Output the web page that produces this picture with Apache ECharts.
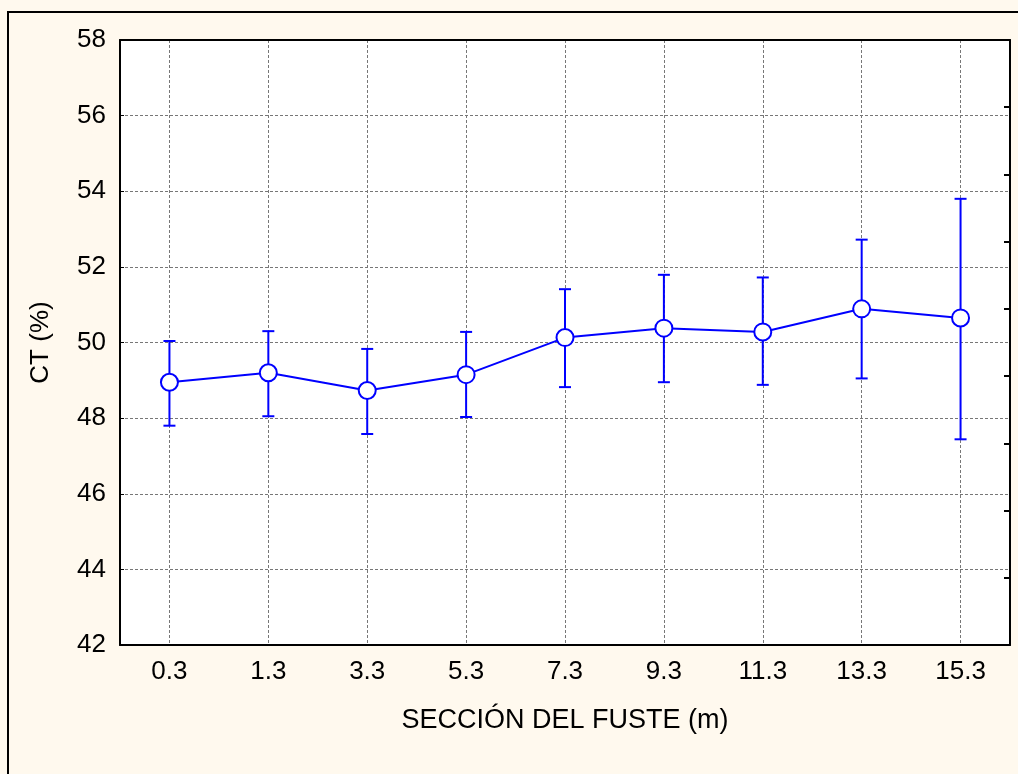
<!DOCTYPE html>
<html>
<head>
	<meta charset="UTF-8">
	<title>CT (%) por sección del fuste</title>
	<script src="https://cdn.jsdelivr.net/npm/echarts@6/dist/echarts.min.js"></script>
	<style>
		html, body { margin: 0; padding: 0; background: #FFF9EE; }
		#chart1 { width: 1018px; height: 774px; }
	</style>
</head>
<body>
	<div id="chart1"></div>
</body>
</html>
<script type="text/javascript">
	// datos
	var secciones = ['0.3', '1.3', '3.3', '5.3', '7.3', '9.3', '11.3', '13.3', '15.3'];
	var medias = [48.95, 49.20, 48.73, 49.15, 50.13, 50.38, 50.28, 50.89, 50.65];
	var limInf = [47.80, 48.05, 47.58, 48.03, 48.82, 48.95, 48.88, 49.05, 47.44];
	var limSup = [50.04, 50.30, 49.83, 50.28, 51.41, 51.79, 51.72, 52.72, 53.80];

	var azul = '#0000FF';
	var fuente = 'Liberation Sans, Arial, sans-serif';

	var barras = secciones.map(function (s, i) {
		return [i, limInf[i], limSup[i]];
	});

	var chart1 = echarts.init(document.getElementById('chart1'));

	var option = {
		backgroundColor: '#FFF9EE',
		animation: false,
		textStyle: { fontFamily: fuente },
		graphic: [{
			type: 'rect',
			shape: { x: 8, y: 12, width: 1100, height: 900 },
			style: { fill: 'none', stroke: '#000', lineWidth: 2 },
			silent: true
		}],
		grid: {
			left: 120, top: 40, right: 8, bottom: 129,
			show: true, backgroundColor: '#FFFFFF', borderWidth: 0
		},
		xAxis: [{
			type: 'category',
			data: secciones,
			position: 'bottom',
			name: 'SECCIÓN DEL FUSTE (m)',
			nameLocation: 'middle',
			nameGap: 62,
			nameTextStyle: { color: '#000', fontSize: 27, fontFamily: fuente },
			axisLine: { lineStyle: { color: '#000', width: 2 } },
			axisTick: { inside: true, alignWithLabel: true, length: 5, lineStyle: { color: '#000', width: 2 } },
			axisLabel: { color: '#000', fontSize: 26, margin: 14, fontFamily: fuente },
			splitLine: { show: true, alignWithLabel: true, lineStyle: { color: '#777777', type: [3, 2], width: 1 } }
		}, {
			type: 'category',
			data: secciones,
			position: 'top',
			axisLine: { lineStyle: { color: '#000', width: 2 } },
			axisTick: { inside: true, alignWithLabel: true, length: 5, lineStyle: { color: '#000', width: 2 } },
			axisLabel: { show: false },
			splitLine: { show: false }
		}],
		yAxis: [{
			type: 'value',
			min: 42, max: 58, interval: 2,
			name: 'CT (%)',
			nameLocation: 'middle',
			nameGap: 66,
			nameTextStyle: { color: '#000', fontSize: 26, fontFamily: fuente },
			axisLine: { show: true, lineStyle: { color: '#000', width: 2 } },
			axisTick: { show: true, inside: true, length: 4, lineStyle: { color: '#000', width: 1 } },
			axisLabel: { color: '#000', fontSize: 26, margin: 14, fontFamily: fuente },
			splitLine: { show: true, lineStyle: { color: '#777777', type: [3, 2], width: 1 } }
		}, {
			type: 'value',
			position: 'right',
			min: 0, max: 9, interval: 1,
			axisLine: { show: true, lineStyle: { color: '#000', width: 2 } },
			axisTick: { show: true, inside: true, length: 6, lineStyle: { color: '#000', width: 2 } },
			axisLabel: { show: false },
			splitLine: { show: false }
		}],
		series: [{
			type: 'custom',
			name: 'error',
			xAxisIndex: 0,
			yAxisIndex: 0,
			data: barras,
			z: 2,
			renderItem: function (params, api) {
				var x = api.value(0);
				var bajo = api.coord([x, api.value(1)]);
				var alto = api.coord([x, api.value(2)]);
				var m = 6;
				var estilo = { stroke: azul, lineWidth: 2 };
				return {
					type: 'group',
					children: [
						{ type: 'line', shape: { x1: alto[0], y1: alto[1], x2: bajo[0], y2: bajo[1] }, style: estilo },
						{ type: 'line', shape: { x1: alto[0] - m, y1: alto[1], x2: alto[0] + m, y2: alto[1] }, style: estilo },
						{ type: 'line', shape: { x1: bajo[0] - m, y1: bajo[1], x2: bajo[0] + m, y2: bajo[1] }, style: estilo }
					]
				};
			}
		}, {
			type: 'line',
			name: 'CT',
			xAxisIndex: 0,
			yAxisIndex: 0,
			data: medias,
			z: 3,
			symbol: 'circle',
			symbolSize: 17,
			showAllSymbol: true,
			lineStyle: { color: azul, width: 2 },
			itemStyle: { color: '#FFFFFF', borderColor: azul, borderWidth: 2 }
		}]
	};

	chart1.setOption(option);
</script>
